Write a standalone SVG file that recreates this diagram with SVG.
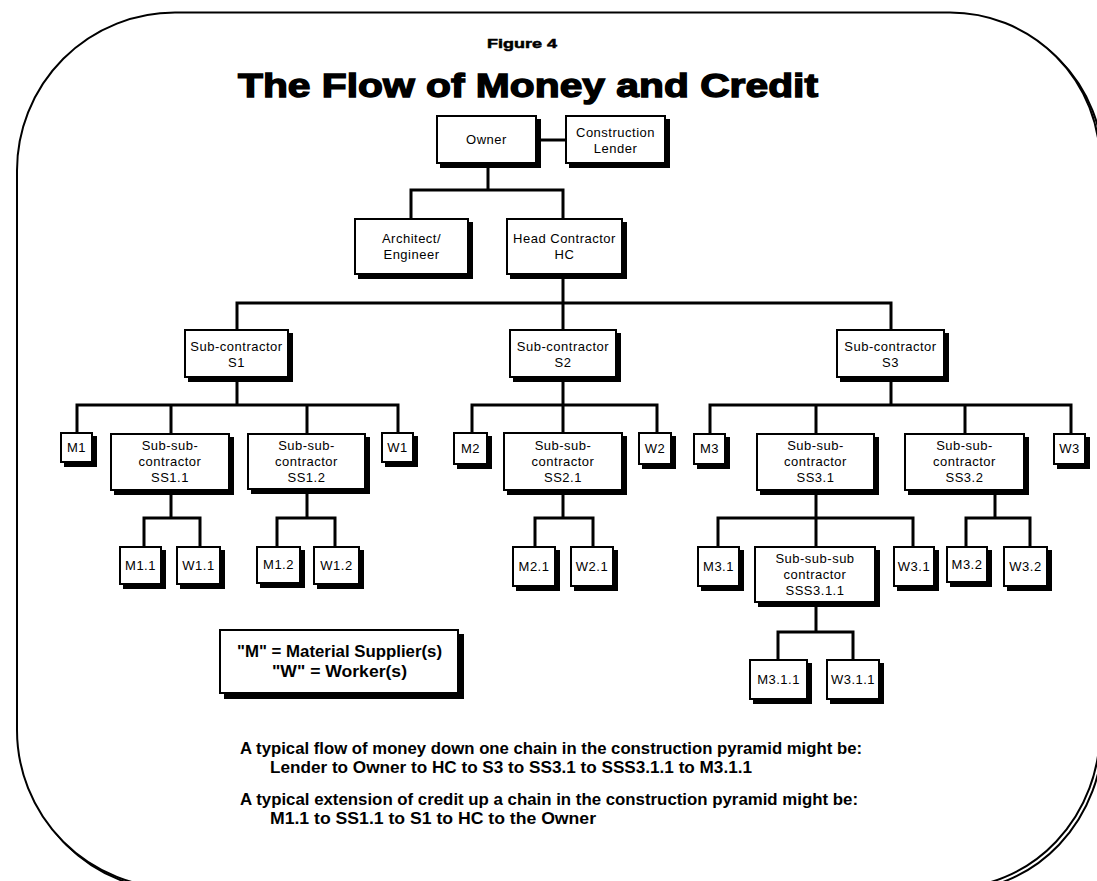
<svg xmlns="http://www.w3.org/2000/svg" width="1097" height="881" viewBox="0 0 1097 881">
<style>
.sh{fill:#000}
.bx{fill:#fff;stroke:#000;stroke-width:2}
.t{font-family:"Liberation Sans",Arial,sans-serif;font-size:13px;letter-spacing:0.5px;text-anchor:middle;fill:#000}
.c{fill:none;stroke:#000;stroke-width:3;stroke-linecap:square}
.b{font-family:"Liberation Sans",Arial,sans-serif;font-weight:bold;fill:#000}
</style>
<rect x="0" y="0" width="1097" height="881" fill="#fff"/>
<g id="frame">
<path d="M175,12.5 H950 A150,150 0 0 1 1100,162.5 V730 A150,158 0 0 1 950,888 H175 A158,158 0 0 1 17,730 V170.5 A158,158 0 0 1 175,12.5 Z" fill="none" stroke="#000" stroke-width="2" transform="translate(3,3)"/>
<path d="M175,12.5 H950 A150,150 0 0 1 1100,162.5 V730 A150,158 0 0 1 950,888 H175 A158,158 0 0 1 17,730 V170.5 A158,158 0 0 1 175,12.5 Z" fill="#fff" stroke="#000" stroke-width="2"/>
</g>
<g id="titles">
<text class="b" x="522" y="48" font-size="13" text-anchor="middle" textLength="70" lengthAdjust="spacingAndGlyphs" stroke="#000" stroke-width="0.5">Figure 4</text>
<text class="b" x="238" y="97" font-size="34" textLength="580" lengthAdjust="spacingAndGlyphs" stroke="#000" stroke-width="1.4">The Flow of Money and Credit</text>
</g>
<g id="connectors">
<path class="c" d="M537,140 H565"/>
<path class="c" d="M488,164 V190 M411,190 H563 M411,190 V218 M563,190 V218"/>
<path class="c" d="M563,275 V303 M237,303 H891 M237,303 V329 M563,303 V329 M891,303 V329"/>
<path class="c" d="M237,378 V405 M77,405 H398 M77,405 V432 M171,405 V433 M307,405 V433 M398,405 V432"/>
<path class="c" d="M171,491 V518 M144,518 H200 M144,518 V546 M200,518 V546"/>
<path class="c" d="M307,490 V518 M277,518 H335 M277,518 V546 M335,518 V546"/>
<path class="c" d="M563,378 V405 M472,405 H657 M472,405 V432 M563,405 V432 M657,405 V432"/>
<path class="c" d="M563,491 V518 M535,518 H593 M535,518 V546 M593,518 V546"/>
<path class="c" d="M891,378 V405 M710,405 H1071 M710,405 V433 M816,405 V433 M965,405 V433 M1071,405 V433"/>
<path class="c" d="M816,491 V518 M718,518 H913 M718,518 V546 M816,518 V546 M913,518 V546"/>
<path class="c" d="M995,491 V518 M966,518 H1030 M966,518 V546 M1030,518 V546"/>
<path class="c" d="M816,603 V632 M778,632 H853 M778,632 V659 M853,632 V659"/>
</g>
<g id="owner"><rect class="sh" x="440" y="119" width="101" height="49"/><rect class="bx" x="437" y="116" width="99" height="47"/><text class="t" x="486.5" y="144">Owner</text></g>
<g id="lender"><rect class="sh" x="569" y="119" width="101" height="49"/><rect class="bx" x="566" y="116" width="99" height="47"/><text class="t" x="615.5" y="137">Construction</text><text class="t" x="615.5" y="153">Lender</text></g>
<g id="architect"><rect class="sh" x="358" y="222" width="115" height="57"/><rect class="bx" x="355" y="219" width="113" height="55"/><text class="t" x="411.5" y="243">Architect/</text><text class="t" x="411.5" y="259">Engineer</text></g>
<g id="hc"><rect class="sh" x="510" y="222" width="117" height="57"/><rect class="bx" x="507" y="219" width="115" height="55"/><text class="t" x="564.5" y="243">Head Contractor</text><text class="t" x="564.5" y="259">HC</text></g>
<g id="s1"><rect class="sh" x="188" y="333" width="105" height="49"/><rect class="bx" x="185" y="330" width="103" height="47"/><text class="t" x="236.5" y="351">Sub-contractor</text><text class="t" x="236.5" y="367">S1</text></g>
<g id="s2"><rect class="sh" x="513" y="333" width="108" height="49"/><rect class="bx" x="510" y="330" width="106" height="47"/><text class="t" x="563" y="351">Sub-contractor</text><text class="t" x="563" y="367">S2</text></g>
<g id="s3"><rect class="sh" x="840" y="333" width="109" height="49"/><rect class="bx" x="837" y="330" width="107" height="47"/><text class="t" x="890.5" y="351">Sub-contractor</text><text class="t" x="890.5" y="367">S3</text></g>
<g id="m1"><rect class="sh" x="64" y="436" width="33" height="31"/><rect class="bx" x="61" y="433" width="31" height="29"/><text class="t" x="76.5" y="452">M1</text></g>
<g id="ss11"><rect class="sh" x="114" y="437" width="120" height="58"/><rect class="bx" x="111" y="434" width="118" height="56"/><text class="t" x="170" y="450">Sub-sub-</text><text class="t" x="170" y="466">contractor</text><text class="t" x="170" y="482">SS1.1</text></g>
<g id="ss12"><rect class="sh" x="251" y="437" width="119" height="57"/><rect class="bx" x="248" y="434" width="117" height="55"/><text class="t" x="306.5" y="450">Sub-sub-</text><text class="t" x="306.5" y="466">contractor</text><text class="t" x="306.5" y="482">SS1.2</text></g>
<g id="w1"><rect class="sh" x="385" y="436" width="33" height="31"/><rect class="bx" x="382" y="433" width="31" height="29"/><text class="t" x="397.5" y="452">W1</text></g>
<g id="m2"><rect class="sh" x="457" y="436" width="35" height="33"/><rect class="bx" x="454" y="433" width="33" height="31"/><text class="t" x="470.5" y="453">M2</text></g>
<g id="ss21"><rect class="sh" x="507" y="436" width="120" height="59"/><rect class="bx" x="504" y="433" width="118" height="57"/><text class="t" x="563" y="450">Sub-sub-</text><text class="t" x="563" y="466">contractor</text><text class="t" x="563" y="482">SS2.1</text></g>
<g id="w2"><rect class="sh" x="642" y="436" width="34" height="33"/><rect class="bx" x="639" y="433" width="32" height="31"/><text class="t" x="655" y="453">W2</text></g>
<g id="m3"><rect class="sh" x="697" y="437" width="33" height="32"/><rect class="bx" x="694" y="434" width="31" height="30"/><text class="t" x="709.5" y="453">M3</text></g>
<g id="ss31"><rect class="sh" x="760" y="437" width="119" height="58"/><rect class="bx" x="757" y="434" width="117" height="56"/><text class="t" x="815.5" y="450">Sub-sub-</text><text class="t" x="815.5" y="466">contractor</text><text class="t" x="815.5" y="482">SS3.1</text></g>
<g id="ss32"><rect class="sh" x="908" y="437" width="121" height="58"/><rect class="bx" x="905" y="434" width="119" height="56"/><text class="t" x="964.5" y="450">Sub-sub-</text><text class="t" x="964.5" y="466">contractor</text><text class="t" x="964.5" y="482">SS3.2</text></g>
<g id="w3"><rect class="sh" x="1057" y="437" width="33" height="32"/><rect class="bx" x="1054" y="434" width="31" height="30"/><text class="t" x="1069.5" y="453">W3</text></g>
<g id="m11"><rect class="sh" x="123" y="550" width="43" height="39"/><rect class="bx" x="120" y="547" width="41" height="37"/><text class="t" x="140.5" y="570">M1.1</text></g>
<g id="w11"><rect class="sh" x="180" y="550" width="45" height="39"/><rect class="bx" x="177" y="547" width="43" height="37"/><text class="t" x="198.5" y="570">W1.1</text></g>
<g id="m12"><rect class="sh" x="260" y="550" width="45" height="38"/><rect class="bx" x="257" y="547" width="43" height="36"/><text class="t" x="278.5" y="569">M1.2</text></g>
<g id="w12"><rect class="sh" x="317" y="550" width="47" height="39"/><rect class="bx" x="314" y="547" width="45" height="37"/><text class="t" x="336.5" y="570">W1.2</text></g>
<g id="m21"><rect class="sh" x="516" y="550" width="44" height="41"/><rect class="bx" x="513" y="547" width="42" height="39"/><text class="t" x="534" y="571">M2.1</text></g>
<g id="w21"><rect class="sh" x="574" y="550" width="44" height="41"/><rect class="bx" x="571" y="547" width="42" height="39"/><text class="t" x="592" y="571">W2.1</text></g>
<g id="m31"><rect class="sh" x="701" y="550" width="43" height="41"/><rect class="bx" x="698" y="547" width="41" height="39"/><text class="t" x="718.5" y="571">M3.1</text></g>
<g id="sss311"><rect class="sh" x="758" y="550" width="122" height="57"/><rect class="bx" x="755" y="547" width="120" height="55"/><text class="t" x="815" y="563">Sub-sub-sub</text><text class="t" x="815" y="579">contractor</text><text class="t" x="815" y="595">SSS3.1.1</text></g>
<g id="w31"><rect class="sh" x="897" y="550" width="42" height="41"/><rect class="bx" x="894" y="547" width="40" height="39"/><text class="t" x="914" y="571">W3.1</text></g>
<g id="m32"><rect class="sh" x="950" y="550" width="42" height="37"/><rect class="bx" x="947" y="547" width="40" height="35"/><text class="t" x="967" y="569">M3.2</text></g>
<g id="w32"><rect class="sh" x="1007" y="550" width="45" height="41"/><rect class="bx" x="1004" y="547" width="43" height="39"/><text class="t" x="1025.5" y="571">W3.2</text></g>
<g id="m311"><rect class="sh" x="753" y="663" width="59" height="41"/><rect class="bx" x="750" y="660" width="57" height="39"/><text class="t" x="778.5" y="684">M3.1.1</text></g>
<g id="w311"><rect class="sh" x="830" y="663" width="54" height="41"/><rect class="bx" x="827" y="660" width="52" height="39"/><text class="t" x="853" y="684">W3.1.1</text></g>
<g id="legend"><rect class="sh" x="224" y="634" width="240" height="65"/><rect class="bx" x="220" y="630" width="238" height="63"/>
<text class="b" x="237" y="657" font-size="17" textLength="205" lengthAdjust="spacingAndGlyphs">"M" = Material Supplier(s)</text>
<text class="b" x="272" y="677" font-size="17" textLength="135" lengthAdjust="spacingAndGlyphs">"W" = Worker(s)</text></g>
<g id="notes">
<text class="b" x="240" y="754" font-size="16" textLength="622" lengthAdjust="spacingAndGlyphs">A typical flow of money down one chain in the construction pyramid might be:</text>
<text class="b" x="270" y="773" font-size="16" textLength="482" lengthAdjust="spacingAndGlyphs">Lender to Owner to HC to S3 to SS3.1 to SSS3.1.1 to M3.1.1</text>
<text class="b" x="240" y="805" font-size="16" textLength="618" lengthAdjust="spacingAndGlyphs">A typical extension of credit up a chain in the construction pyramid might be:</text>
<text class="b" x="270" y="824" font-size="16" textLength="326" lengthAdjust="spacingAndGlyphs">M1.1 to SS1.1 to S1 to HC to the Owner</text>
</g>
</svg>
